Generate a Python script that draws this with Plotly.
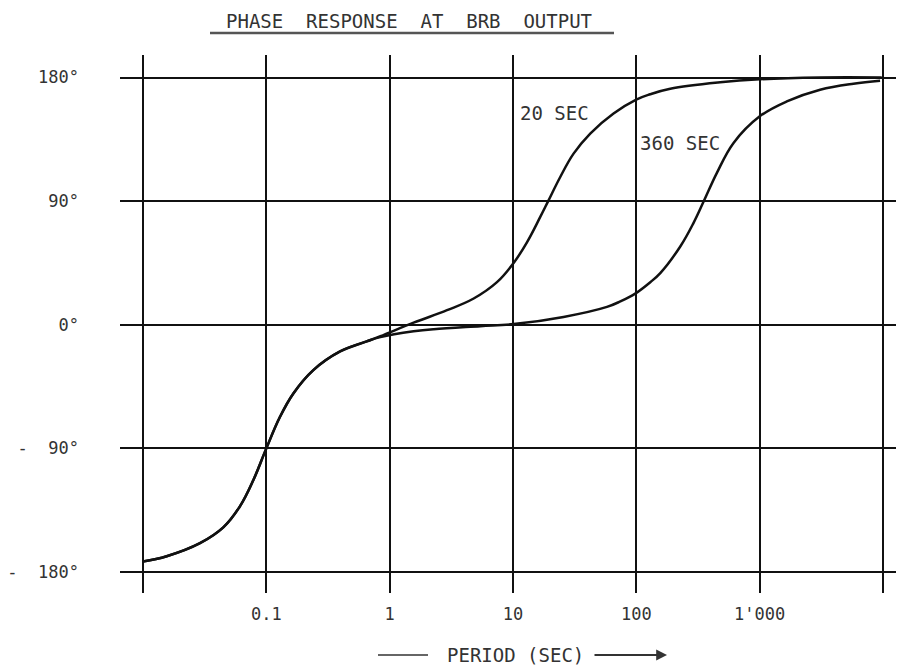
import plotly.graph_objects as go

# ---- data ----
period_20 = [0.01, 0.01556, 0.02897, 0.04477, 0.06124, 0.07852, 0.1, 0.1291, 0.1656,
             0.2404, 0.3963, 0.6516, 0.8414, 1.563, 2.917, 4.797, 7.413, 10.12,
             12.97, 16.63, 19.28, 24.15, 30.97, 42.27, 65.31, 99.77, 129.4, 188.4,
             478.6, 995.4, 3090, 9772]
phase_20 = [-172.3, -168.5, -159, -147.5, -132, -113, -90, -67, -50,
            -33, -19.4, -12.1, -8.3, 1.5, 10.6, 19.1, 31.0, 45.0,
            60.0, 78.5, 90.0, 107.6, 124.6, 139.2, 153.8, 163.9, 167.8, 171.8,
            176.5, 178.7, 180, 180]

period_360 = [0.01, 0.01556, 0.02897, 0.04477, 0.06124, 0.07852, 0.1, 0.1291, 0.1656,
              0.2404, 0.3963, 0.6516, 0.8414, 1.563, 2.275, 5.433, 10.12, 25.7,
              57.8, 74.1, 97.9, 129.7, 156.3, 227, 291, 354.8, 449.8, 613.8,
              995.4, 1660, 3090, 5754, 9462]
phase_360 = [-172.3, -168.5, -159, -147.5, -132, -113, -90, -67, -50,
             -33, -19.4, -12.1, -9.0, -4.8, -3.2, -1.0, 0.5, 5.7,
             13, 17, 22.7, 31, 37.6, 57, 74.2, 90.6, 110.6, 132.4,
             151.6, 162.6, 171.1, 175.5, 177.6]

x_tickvals = [0.01, 0.1, 1, 10, 100, 1000, 10000]
x_ticktext = ["", "0.1", "1", "10", "100", "1'000", ""]
y_tickvals = [180, 90, 0, -90, -180]
y_ticktext = ["180°", "90°", "0°", "-\u00a0\u00a090°", "-\u00a0\u00a0180°"]

title_text = "PHASE\u00a0\u00a0RESPONSE\u00a0\u00a0AT\u00a0\u00a0BRB\u00a0\u00a0OUTPUT"
xaxis_title = "PERIOD (SEC)"
curve_labels = [("20 SEC", 1.04, 154), ("360 SEC", 2.015, 132)]

# ---- layout helpers (screen pixel -> paper); page body has an 8px offset ----
OFF = 8
L, T, W, H = 120 - OFF, 55 - OFF, 784, 538
FIG_W, FIG_H = 904 - OFF, 670 - OFF
def px(x):
    return (x - OFF - L) / W
def py(y):
    return (T + H - (y - OFF)) / H

FONT = "DejaVu Sans Mono"
TXT = "#333333"

fig = go.Figure()
for xs, ys in [(period_20, phase_20), (period_360, phase_360)]:
    fig.add_trace(go.Scatter(x=xs, y=ys, mode="lines",
                             line=dict(color="#111111", width=2.5, shape="spline", smoothing=1.1),
                             showlegend=False, hoverinfo="skip"))

fig.update_layout(
    width=FIG_W, height=FIG_H, autosize=False,
    margin=dict(l=L, r=FIG_W - L - W, t=T, b=FIG_H - T - H),
    paper_bgcolor="white", plot_bgcolor="white",
    font=dict(family=FONT, size=17, color=TXT),
    showlegend=False,
)
fig.update_xaxes(type="log", range=[-2.1865, 4.170],
                 tickmode="array", tickvals=x_tickvals, ticktext=x_ticktext,
                 showgrid=True, gridcolor="#111111", gridwidth=1.5,
                 showline=False, zeroline=False, ticks="", automargin=False,
                 ticklabelstandoff=9, tickfont=dict(family=FONT, size=17, color=TXT))
fig.update_yaxes(range=[-195.3, 196.4],
                 tickmode="array", tickvals=y_tickvals, ticktext=y_ticktext,
                 showgrid=True, gridcolor="#111111", gridwidth=2,
                 showline=False, zeroline=False, ticks="", automargin=False,
                 ticklabelstandoff=40, tickfont=dict(family=FONT, size=17, color=TXT))

# title + underline
fig.add_annotation(text=title_text, xref="paper", yref="paper", x=px(409), y=py(8.5),
                   xanchor="center", yanchor="top", showarrow=False, borderpad=0,
                   font=dict(family=FONT, size=19, color=TXT))
fig.add_shape(type="line", xref="paper", yref="paper", x0=px(210), x1=px(614),
              y0=py(33), y1=py(33), line=dict(color="#555555", width=2.5))

# curve labels
for txt, lx, ly in curve_labels:
    fig.add_annotation(text=txt, x=lx, y=ly, xref="x", yref="y", xanchor="left",
                       yanchor="middle", showarrow=False,
                       font=dict(family=FONT, size=19, color=TXT))

# x-axis title with leading line and arrow
fig.add_annotation(text=xaxis_title, xref="paper", yref="paper", x=px(515), y=py(655),
                   xanchor="center", yanchor="middle", showarrow=False,
                   font=dict(family=FONT, size=19, color=TXT))
fig.add_shape(type="line", xref="paper", yref="paper", x0=px(378), x1=px(428),
              y0=py(655), y1=py(655), line=dict(color="#333333", width=1.5))
fig.add_annotation(text="", xref="paper", yref="paper", x=px(667), y=py(655),
                   ax=-74, ay=0, axref="pixel", ayref="pixel", showarrow=True,
                   arrowhead=2, arrowsize=1.2, arrowwidth=1.8, arrowcolor="#333333")

fig.write_html("out.html")
